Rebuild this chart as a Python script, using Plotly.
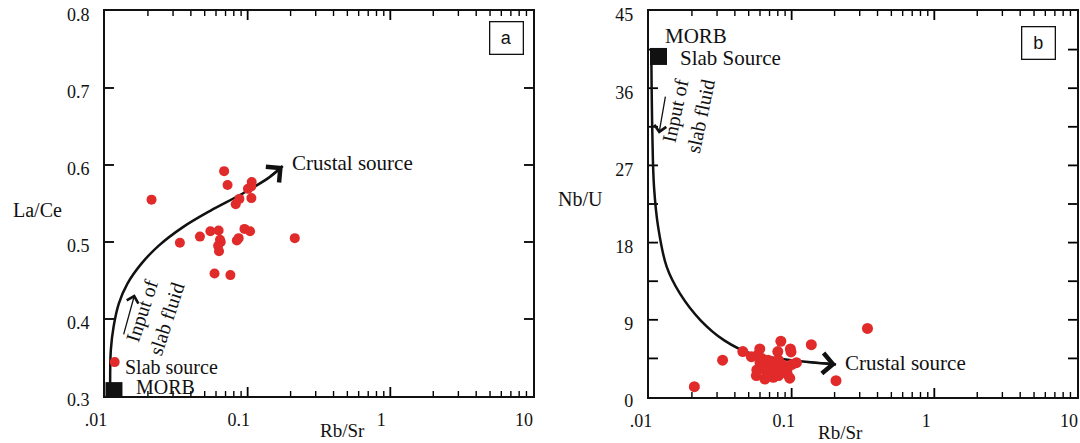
import numpy as np
import plotly.graph_objects as go

# ---------------- data ----------------
# Panel a: Rb/Sr vs La/Ce
a_rbsr = [0.0212, 0.0335, 0.0463, 0.0548, 0.0626, 0.0640, 0.0648, 0.0621, 0.0630, 0.0586,
          0.0757, 0.0684, 0.0723, 0.0825, 0.0875, 0.0840, 0.0865, 0.0950, 0.1040, 0.1068,
          0.1060, 0.1005, 0.1062, 0.2140, 0.0117]
a_lace = [0.555, 0.499, 0.507, 0.514, 0.515, 0.503, 0.500, 0.495, 0.488, 0.459,
          0.457, 0.592, 0.574, 0.549, 0.556, 0.502, 0.505, 0.517, 0.514, 0.578,
          0.572, 0.569, 0.557, 0.505, 0.344]

# Panel b: Rb/Sr vs Nb/U
b_rbsr = [0.0208, 0.0328, 0.0455, 0.0522, 0.0580, 0.0598, 0.0600, 0.0616, 0.0566, 0.0632,
          0.0649, 0.0676, 0.0685, 0.0705, 0.0724, 0.0743, 0.0765, 0.0800, 0.0808, 0.0808,
          0.0808, 0.0840, 0.0852, 0.0876, 0.0930, 0.0930, 0.0980, 0.0990, 0.1005, 0.1374,
          0.2047, 0.3400, 0.0970, 0.1080, 0.0570, 0.0650]
b_nbu = [1.2, 4.3, 5.3, 4.7, 4.9, 5.6, 4.0, 4.5, 2.5, 3.3,
         2.1, 2.8, 4.3, 3.5, 4.1, 2.3, 2.9, 5.3, 3.5, 2.5,
         4.3, 6.5, 3.1, 3.7, 2.7, 3.3, 5.6, 5.25, 3.8, 6.1,
         1.9, 8.0, 2.2, 4.0, 3.15, 3.5]

# end-member (MORB / slab source) squares
a_morb_x = [0.01156]
a_morb_y = [0.307]
b_morb_x = [0.01166]
b_morb_y = [39.7]

# trend curves
a_curve_x = [0.01087, 0.01099, 0.01149, 0.0125, 0.01437, 0.01795, 0.02373, 0.0350, 0.0547, 0.0902, 0.1409, 0.1763]
a_curve_y = [0.314, 0.3595, 0.390, 0.420, 0.446, 0.4716, 0.495, 0.519, 0.5405, 0.562, 0.5836, 0.5987]
b_curve_x = [0.0104, 0.01056, 0.01085, 0.0116, 0.0133, 0.0165, 0.0230, 0.0337, 0.0521, 0.0806, 0.125, 0.205]
b_curve_y = [38.9, 30.7, 24.5, 19.8, 15.2, 12.05, 8.94, 6.6, 5.05, 4.5, 4.1, 3.8]

# small "input of slab fluid" arrows (tail, head)
a_small_arrow_x = [0.01343, 0.01615]
a_small_arrow_y = [0.378, 0.432]
b_small_arrow_x = [0.01309, 0.01175]
b_small_arrow_y = [35.2, 30.7]

x_tickvals = [0.01, 0.1, 1, 10]
x_ticktext = [".01", "0.1", "1", "10"]
x_minor = [m * d for d in (0.01, 0.1, 1) for m in range(2, 10)]
a_yticks = [0.3, 0.4, 0.5, 0.6, 0.7, 0.8]
a_yticktext = ["0.3", "0.4", "0.5", "0.6", "0.7", "0.8"]
b_yticks = [0, 9, 18, 27, 36, 45]
b_yminor = [4.5, 13.5, 22.5, 31.5, 40.5]

# ---------------- style ----------------
RED = "#E12A2A"
INK = "#111111"
SERIF = "Liberation Serif, Times New Roman, serif"
SANS = "Liberation Sans, Arial, sans-serif"
MAJ_FRAC = 9 / 385   # tick length as a fraction of the panel height / width
MIN_FRAC = 5 / 385

fig = go.Figure()

def tick_segments(xa, ya, yt, ymin):
    """Inward tick marks drawn as short line segments along the four frame edges."""
    lo, hi = yt[0], yt[-1]
    span = hi - lo
    logspan = np.log10(x_tickvals[-1]) - np.log10(x_tickvals[0])
    xmaj = x_tickvals[1:-1]
    for vals, frac, w in ((xmaj, MAJ_FRAC, 1.8), (x_minor, MIN_FRAC, 1.4)):
        xs, ys = [], []
        for v in vals:
            xs += [v, v, None, v, v, None]
            ys += [lo, lo + frac * span, None, hi, hi - frac * span, None]
        fig.add_trace(go.Scatter(x=xs, y=ys, mode="lines", line=dict(color="black", width=w),
                                 xaxis=xa, yaxis=ya, hoverinfo="skip", connectgaps=False))
    yvals = list(yt[1:-1]) + list(ymin)
    xl, xr = x_tickvals[0], x_tickvals[-1]
    k = 10 ** (MAJ_FRAC * 385 / 428 * logspan)
    xs, ys = [], []
    for v in yvals:
        xs += [xl, xl * k, None, xr, xr / k, None]
        ys += [v, v, None, v, v, None]
    fig.add_trace(go.Scatter(x=xs, y=ys, mode="lines", line=dict(color="black", width=1.8),
                             xaxis=xa, yaxis=ya, hoverinfo="skip", connectgaps=False))

def add_panel(xa, ya, px, py, cx, cy, mx, my, msize, yt, ymin):
    tick_segments(xa, ya, yt, ymin)
    fig.add_trace(go.Scatter(x=cx, y=cy, mode="lines", line=dict(color=INK, width=2.5, shape="spline", smoothing=1.0),
                             xaxis=xa, yaxis=ya, hoverinfo="skip"))
    fig.add_trace(go.Scatter(x=px, y=py, mode="markers",
                             marker=dict(color=RED, size=msize, line=dict(width=0)),
                             xaxis=xa, yaxis=ya))
    fig.add_trace(go.Scatter(x=mx, y=my, mode="markers",
                             marker=dict(color=INK, size=17, symbol="square", line=dict(width=0)),
                             xaxis=xa, yaxis=ya))

add_panel("x", "y", a_rbsr, a_lace, a_curve_x, a_curve_y, a_morb_x, a_morb_y, 10, a_yticks, [])
add_panel("x2", "y2", b_rbsr, b_nbu, b_curve_x, b_curve_y, b_morb_x, b_morb_y, 11, b_yticks, b_yminor)

axis_common = dict(showline=True, linecolor=INK, linewidth=2, mirror=True,
                   ticks="", showgrid=False, zeroline=False, automargin=False,
                   tickfont=dict(family=SERIF, size=18, color=INK))

xaxis_common = dict(axis_common, type="log", range=[-2, 1],
                    tickvals=x_tickvals, ticktext=x_ticktext, ticklabelstandoff=6)

fig.update_layout(
    width=1080, height=443, margin=dict(l=0, r=0, t=0, b=0, autoexpand=False),
    paper_bgcolor="white", plot_bgcolor="white", showlegend=False,
    xaxis=dict(xaxis_common, domain=[0.0972, 0.4935], anchor="y", ticklabelshift=-9),
    yaxis=dict(axis_common, domain=[0.1061, 0.9752], anchor="x", range=[a_yticks[0], a_yticks[-1]],
               tickvals=a_yticks, ticktext=a_yticktext, ticklabelstandoff=10, ticklabelshift=4),
    xaxis2=dict(xaxis_common, domain=[0.6009, 0.9972], anchor="y2", ticklabelshift=-8),
    yaxis2=dict(axis_common, domain=[0.1038, 0.9752], anchor="x2", range=[b_yticks[0], b_yticks[-1]],
                tickvals=b_yticks, ticklabelstandoff=10, ticklabelshift=4),
)

ann = []
def txt(text, x, y, xref, yref, size=21, xanchor="left", angle=0, family=SERIF):
    ann.append(dict(text=text, x=x, y=y, xref=xref, yref=yref, showarrow=False, xanchor=xanchor,
                    yanchor="middle", textangle=angle, font=dict(family=family, size=size, color=INK)))

# curve arrowheads (derived from curve data)
for xr, yr, cx, cy in (("x", "y", a_curve_x, a_curve_y), ("x2", "y2", b_curve_x, b_curve_y)):
    ann.append(dict(text="", x=np.log10(cx[-1]), y=cy[-1], ax=np.log10(cx[-2]), ay=cy[-2],
                    xref=xr, yref=yr, axref=xr, ayref=yr, showarrow=True,
                    arrowhead=4, arrowsize=1.8, arrowwidth=2.2, arrowcolor=INK, standoff=0))
# small arrows
for xr, yr, sx, sy in (("x", "y", a_small_arrow_x, a_small_arrow_y), ("x2", "y2", b_small_arrow_x, b_small_arrow_y)):
    ann.append(dict(text="", x=np.log10(sx[1]), y=sy[1], ax=np.log10(sx[0]), ay=sy[0],
                    xref=xr, yref=yr, axref=xr, ayref=yr, showarrow=True,
                    arrowhead=4, arrowsize=1.8, arrowwidth=1.3, arrowcolor=INK, standoff=0))

# panel a texts
txt("Crustal source", -0.70, 0.603, "x", "y")
txt("Slab source", -1.874, 0.338, "x", "y", size=20)
txt("MORB", -1.797, 0.312, "x", "y", size=20)
txt("Input of<br>slab fluid", -1.655, 0.405, "x", "y", size=20, xanchor="center", angle=-72)
# panel b texts
txt("MORB", -1.902, 42.1, "x2", "y2")
txt("Slab Source", -1.797, 39.5, "x2", "y2")
txt("Crustal source", -0.64, 3.95, "x2", "y2")
txt("Input of<br>slab fluid", -1.727, 33.1, "x2", "y2", size=20, xanchor="center", angle=-78)

# axis titles
txt("Rb/Sr", 0.3167, 1 - 430 / 443, "paper", "paper", size=19, xanchor="center")
txt("Rb/Sr", 0.7784, 1 - 432 / 443, "paper", "paper", size=19, xanchor="center")
txt("La/Ce", 37 / 1080, 1 - 210 / 443, "paper", "paper", size=20, xanchor="center")
txt("Nb/U", 580 / 1080, 1 - 199 / 443, "paper", "paper", size=20, xanchor="center")

# panel letters
for letter, xr, yr, x, y in (("a", "x domain", "y domain", 0.939, 0.93), ("b", "x2 domain", "y2 domain", 0.909, 0.916)):
    ann.append(dict(text=letter, x=x, y=y, xref=xr, yref=yr, showarrow=False,
                    xanchor="center", yanchor="middle", width=30, height=29,
                    bordercolor=INK, borderwidth=1.3, borderpad=1, bgcolor="white",
                    font=dict(family=SANS, size=18, color=INK)))

fig.update_layout(annotations=ann)
fig.write_html("out.html")
